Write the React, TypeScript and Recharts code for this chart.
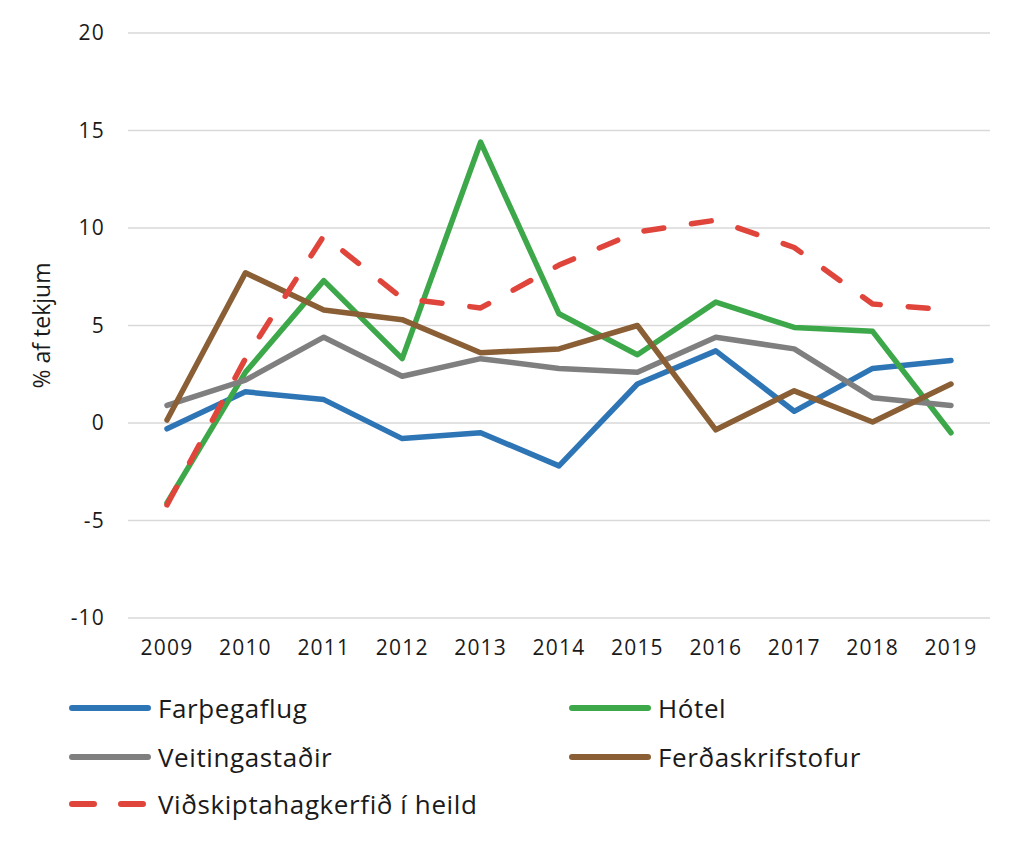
import React from 'react';
import { LineChart, Line, XAxis, YAxis, CartesianGrid } from 'recharts';

const years = ['2009', '2010', '2011', '2012', '2013', '2014', '2015', '2016', '2017', '2018', '2019'];
const farthegaflug = [-0.3, 1.6, 1.2, -0.8, -0.5, -2.2, 2.0, 3.7, 0.6, 2.8, 3.2];
const hotel = [-4.1, 2.6, 7.3, 3.3, 14.4, 5.6, 3.5, 6.2, 4.9, 4.7, -0.5];
const veitingastadir = [0.9, 2.2, 4.4, 2.4, 3.3, 2.8, 2.6, 4.4, 3.8, 1.3, 0.9];
const ferdaskrifstofur = [0.15, 7.7, 5.8, 5.3, 3.6, 3.8, 5.0, -0.35, 1.65, 0.05, 2.0];
const heild = [-4.2, 3.3, 9.6, 6.4, 5.9, 8.1, 9.8, 10.4, 9.0, 6.1, 5.8];
const yTicks = [-10, -5, 0, 5, 10, 15, 20];

const data = years.map((y, i) => ({
  year: y,
  farthegaflug: farthegaflug[i],
  hotel: hotel[i],
  veitingastadir: veitingastadir[i],
  ferdaskrifstofur: ferdaskrifstofur[i],
  heild: heild[i],
}));

const series = [
  { key: 'farthegaflug', name: 'Farþegaflug', color: '#2E75B6', dash: undefined as string | undefined },
  { key: 'hotel', name: 'Hótel', color: '#3DA84A', dash: undefined },
  { key: 'veitingastadir', name: 'Veitingastaðir', color: '#7F7F7F', dash: undefined },
  { key: 'ferdaskrifstofur', name: 'Ferðaskrifstofur', color: '#8A5F35', dash: undefined },
  { key: 'heild', name: 'Viðskiptahagkerfið í heild', color: '#E0453C', dash: '20 28' },
];

const legendPos = [
  { left: 60, top: 700 },
  { left: 560, top: 700 },
  { left: 60, top: 749 },
  { left: 560, top: 749 },
  { left: 60, top: 796 },
];

const font = '"Open Sans", sans-serif';

export default function App() {
  return (
    <div style={{ position: 'relative', width: 1008, height: 830, fontFamily: font }}>
      <LineChart width={1008} height={660} data={data} margin={{ top: 25, right: 26, bottom: 0, left: 0 }}>
        <CartesianGrid vertical={false} stroke="#D9D9D9" strokeWidth={1.5} />
        <XAxis
          dataKey="year"
          padding={{ left: 39, right: 39 }}
          axisLine={false}
          tickLine={false}
          tickSize={0}
          tickMargin={22}
          height={50}
          interval={0}
          tick={{ fontSize: 21, fill: '#1a1a1a', fontFamily: font, letterSpacing: 1.2 }}
        />
        <YAxis
          domain={[-10, 20]}
          ticks={yTicks}
          interval={0}
          axisLine={false}
          tickLine={false}
          tickSize={0}
          tickMargin={23}
          width={120}
          tick={{ fontSize: 21, fill: '#1a1a1a', fontFamily: font, letterSpacing: 1.2 }}
          label={{ value: '% af tekjum', angle: -90, position: 'center', dx: -26, style: { fontSize: 23, fill: '#1a1a1a', fontFamily: font } }}
        />
        {series.map((s) => (
          <Line
            key={s.key}
            type="linear"
            dataKey={s.key}
            name={s.name}
            stroke={s.color}
            strokeWidth={5.5}
            strokeDasharray={s.dash}
            strokeLinecap="round"
            strokeLinejoin="round"
            dot={false}
            activeDot={false}
            isAnimationActive={false}
          />
        ))}
      </LineChart>
      {series.map((s, i) => (
        <div
          key={s.key}
          style={{
            position: 'absolute',
            left: legendPos[i].left,
            top: legendPos[i].top - 18,
            height: 36,
            display: 'flex',
            alignItems: 'center',
          }}
        >
          <svg width={84} height={10} style={{ display: 'block' }}>
            <line
              x1={4}
              y1={5}
              x2={80}
              y2={5}
              stroke={s.color}
              strokeWidth={6}
              strokeLinecap="round"
              strokeDasharray={s.dash ? '22 27' : undefined}
            />
          </svg>
          <span style={{ marginLeft: 6, fontSize: 26, color: '#1a1a1a', fontFamily: font, letterSpacing: 0.6 }}>{s.name}</span>
        </div>
      ))}
    </div>
  );
}
